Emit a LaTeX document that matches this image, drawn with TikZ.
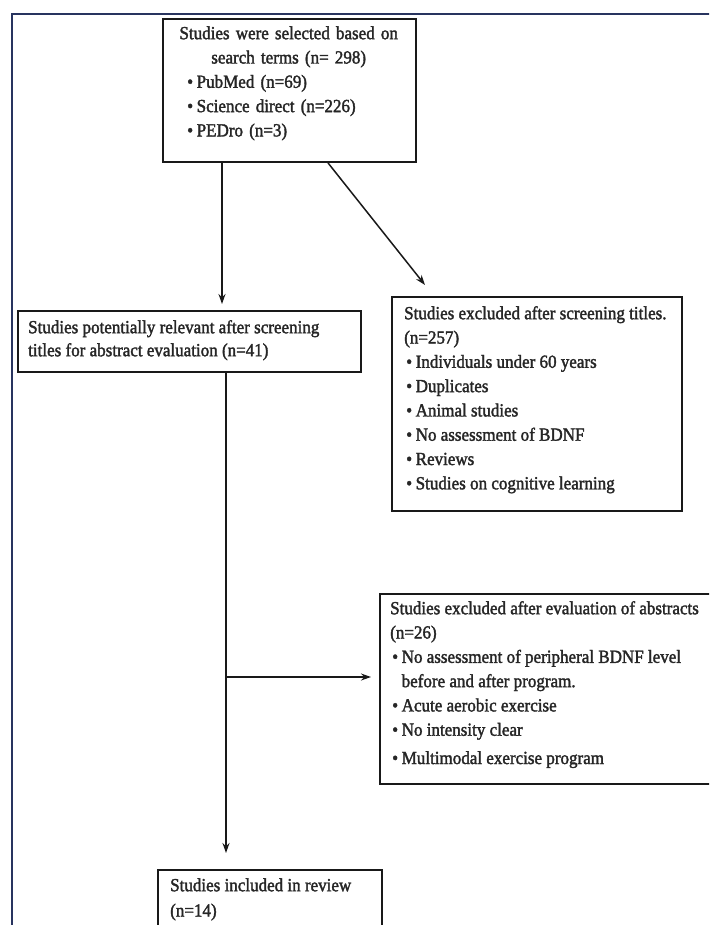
\documentclass[tikz,border=0pt]{standalone}
\usepackage{fontspec}
\setmainfont{Liberation Serif}[FakeStretch=0.92,FakeBold=1.8]
\usetikzlibrary{arrows.meta,calc}
\definecolor{framecol}{RGB}{40,52,95}
\newcommand\fs{\fontsize{18.5}{24.3}\selectfont}
\newcommand\bl{\makebox[9.5pt][l]{\textbullet}}
\newcommand\st{\rule{0pt}{13pt}}
\tikzset{
  box/.style={draw=black!90, line width=1.9pt, inner sep=0pt, anchor=north west},
  txt/.style={anchor=north west, inner sep=0pt, align=left, font=\fs, text=black!85},
  conn/.style={draw=black!90, line width=1.5pt, -{Stealth[length=10pt,width=7pt]}},
}
\begin{document}
\begin{tikzpicture}[x=1pt,y=-1pt]
\useasboundingbox (0,0) rectangle (709,925);
\clip (0,0) rectangle (709,925);
\fill[white] (0,0) rectangle (709,925);
% outer frame
\draw[framecol, line width=2.2pt] (12,930) -- (12,14) -- (712,14);

% boxes
\node[box, minimum width=253pt, minimum height=143pt] (b1) at (162,18) {};
\node[box, minimum width=343pt, minimum height=61pt] (b2) at (17,310) {};
\node[box, minimum width=290pt, minimum height=214pt] (b3) at (391,296) {};
\node[box, minimum width=345pt, minimum height=190pt] (b4) at (379,593) {};
\node[box, minimum width=224pt, minimum height=80pt] (b5) at (157,869) {};

% texts
\node[txt, text width=237pt] (t1) at (170,26) {%
\st\makebox[237pt][c]{Studies were selected based on}\\
\makebox[237pt][c]{search terms (n= 298)}\\
\hspace*{17pt}\bl PubMed (n=69)\\
\hspace*{17pt}\bl Science direct (n=226)\\
\hspace*{17pt}\bl PEDro (n=3)};

\node[txt] (t2) at (28,320) {%
\st Studies potentially relevant after screening\\[-1.3pt]
titles for abstract evaluation (n=41)};

\node[txt] (t3) at (404,306) {%
\st Studies excluded after screening titles.\\
(n=257)\\
\hspace*{2pt}\bl Individuals under 60 years\\
\hspace*{2pt}\bl Duplicates\\
\hspace*{2pt}\bl Animal studies\\
\hspace*{2pt}\bl No assessment of BDNF\\
\hspace*{2pt}\bl Reviews\\
\hspace*{2pt}\bl Studies on cognitive learning};

\node[txt] (t4) at (390,601) {%
\st Studies excluded after evaluation of abstracts\\
(n=26)\\
\hspace*{2pt}\bl No assessment of peripheral BDNF level\\
\hspace*{11.5pt}before and after program.\\
\hspace*{2pt}\bl Acute aerobic exercise\\
\hspace*{2pt}\bl No intensity clear\\[4pt]
\hspace*{2pt}\bl Multimodal exercise program};

\node[txt] (t5) at (170,878) {%
\st Studies included in review\\[1pt]
(n=14)};

% connectors
\coordinate (s1) at ($(b1.south west)+(60,0)$);
\coordinate (e1) at ($(s1 |- b2.north)+(0,-6)$);
\draw[conn] (s1) -- (e1);

\coordinate (s2) at ($(b1.south west)+(166,0)$);
\coordinate (e2) at ($(b3.north west)+(34,-11)$);
\draw[conn] (s2) -- (e2);

\coordinate (s3) at ($(b2.south west)+(209,0)$);
\coordinate (e3) at ($(s3 |- b5.north)+(0,-16)$);
\draw[conn] (s3) -- (e3);

\coordinate (j) at ($(s3 |- b4.north)+(0,84)$);
\coordinate (e4) at ($(j -| b4.west)+(-8,0)$);
\draw[conn] (j) -- (e4);
\end{tikzpicture}
\end{document}
